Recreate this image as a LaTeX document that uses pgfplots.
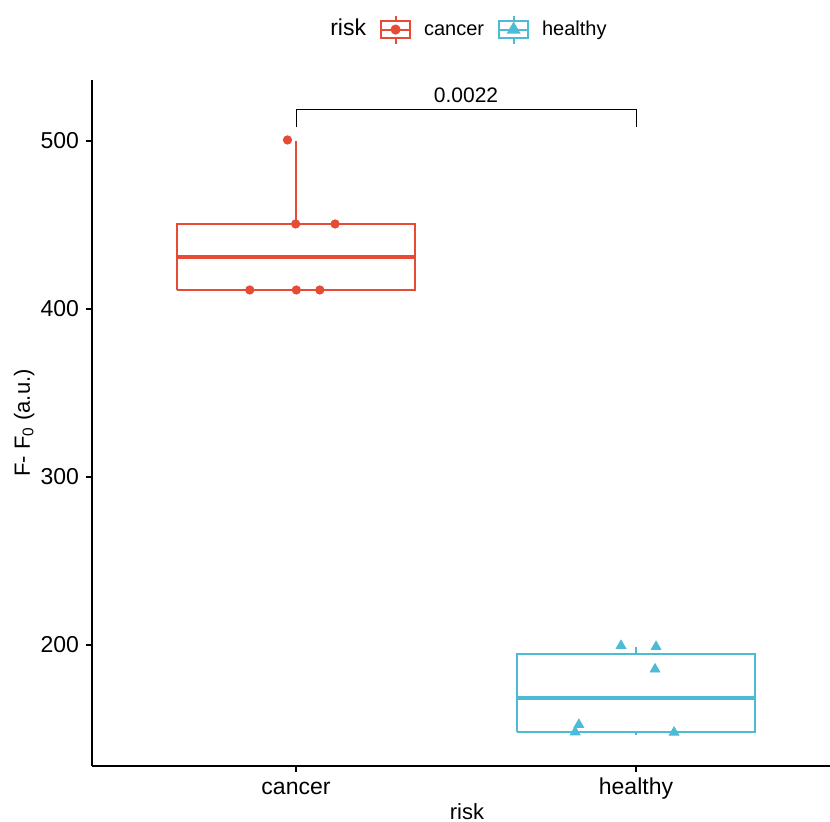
\documentclass[border=0pt]{standalone}
\usepackage{fontspec}
\setmainfont{Liberation Sans}
\usepackage{pgfplots}
\pgfplotsset{compat=1.18}
\definecolor{cancer}{HTML}{E64B35}
\definecolor{healthy}{HTML}{4DBBD5}
\begin{document}
\begin{tikzpicture}
\useasboundingbox (-46pt,-28pt) rectangle (369pt,383pt);
\begin{axis}[
  scale only axis, width=369pt, height=343pt,
  at={(0,0)}, anchor=south west,
  xmin=0.4, xmax=2.5706, ymin=128, ymax=536.3,
  axis lines=left, axis line style={line width=0.8pt, -},
  xtick={1,2}, xticklabels={cancer,healthy},
  ytick={200,300,400,500},
  tick align=outside, tickwidth=3pt,
  major tick style={line width=0.8pt, black},
  tick label style={font=\fontsize{11.5}{13}\selectfont},
  xticklabel style={text height=8.4pt, text depth=0pt, yshift=0.5pt},
  /pgf/number format/assume math mode=true,
  xlabel={risk}, ylabel={F- F\textsubscript{0} (a.u.)},
  label style={font=\fontsize{11}{13}\selectfont},
  xlabel style={at={(axis description cs:0.508,0)}, anchor=base, yshift=-26.8pt},
  ylabel style={at={(axis description cs:0,0.5)}, anchor=base, yshift=31pt},
  clip=false,
  legend style={at={(0.504,1)}, anchor=south, yshift=15.5pt, draw=none,
    legend columns=-1, font=\fontsize{10}{12}\selectfont,
    nodes={text height=7.6pt, text depth=2pt},
    /tikz/every odd column/.append style={column sep=4.5pt},
    /tikz/every even column/.append style={column sep=5pt}},
]
% cancer box
\addplot[cancer, line width=1pt, line join=miter, forget plot] coordinates {
  (0.65,411.3) (1.35,411.3) (1.35,450.6) (0.65,450.6) (0.65,411.3)};
\addplot[cancer, line width=2pt, forget plot] coordinates {(0.65,431.0) (1.35,431.0)};
\addplot[cancer, line width=1pt, forget plot] coordinates {(1,450.6) (1,500.2)};
% healthy box
\addplot[healthy, line width=1pt, line join=miter, forget plot] coordinates {
  (1.65,148.4) (2.35,148.4) (2.35,194.6) (1.65,194.6) (1.65,148.4)};
\addplot[healthy, line width=2pt, forget plot] coordinates {(1.65,168.3) (2.35,168.3)};
\addplot[healthy, line width=1pt, forget plot] coordinates {(2,194.6) (2,198.8)};
\addplot[healthy, line width=1pt, forget plot] coordinates {(2,148.4) (2,146.4)};
% points
\addplot[only marks, mark=*, mark size=2.1pt, cancer, forget plot] coordinates {
  (0.975,500.6) (0.999,450.6) (1.115,450.6) (0.864,411.3) (1.001,411.3) (1.070,411.3)};
\addplot[only marks, mark=triangle*, mark size=2.8pt, healthy, forget plot] coordinates {
  (1.956,199.6) (2.059,199.0) (2.056,185.6) (1.832,152.6) (1.821,148.2) (2.112,148.0)};
% bracket
\addplot[black, line width=0.5pt, forget plot] coordinates {(1,508.3) (1,519) (2,519) (2,508.3)};
\node[font=\fontsize{10.5}{12}\selectfont, anchor=center] at (axis cs:1.5,527) {0.0022};
% legend
\addlegendimage{empty legend}
\addlegendentry{\fontsize{11.5}{13}\selectfont risk}
\addlegendimage{cancer, line width=1pt, legend image code/.code={
  \draw (7.25pt,-7pt) -- (7.25pt,7pt);
  \draw[fill=white] (0pt,-4.25pt) rectangle (14.5pt,4.25pt);
  \draw (0pt,0pt) -- (14.5pt,0pt);
  \fill (7.25pt,0pt) circle (2pt);}}
\addlegendentry{cancer}
\addlegendimage{healthy, line width=1pt, legend image code/.code={
  \draw (7.25pt,-7pt) -- (7.25pt,7pt);
  \draw[fill=white] (0pt,-4.25pt) rectangle (14.5pt,4.25pt);
  \draw (0pt,0pt) -- (14.5pt,0pt);
  \fill (7.25pt,3pt) -- (4.6pt,-1.5pt) -- (9.9pt,-1.5pt) -- cycle;}}
\addlegendentry{healthy}
\end{axis}
\end{tikzpicture}
\end{document}
